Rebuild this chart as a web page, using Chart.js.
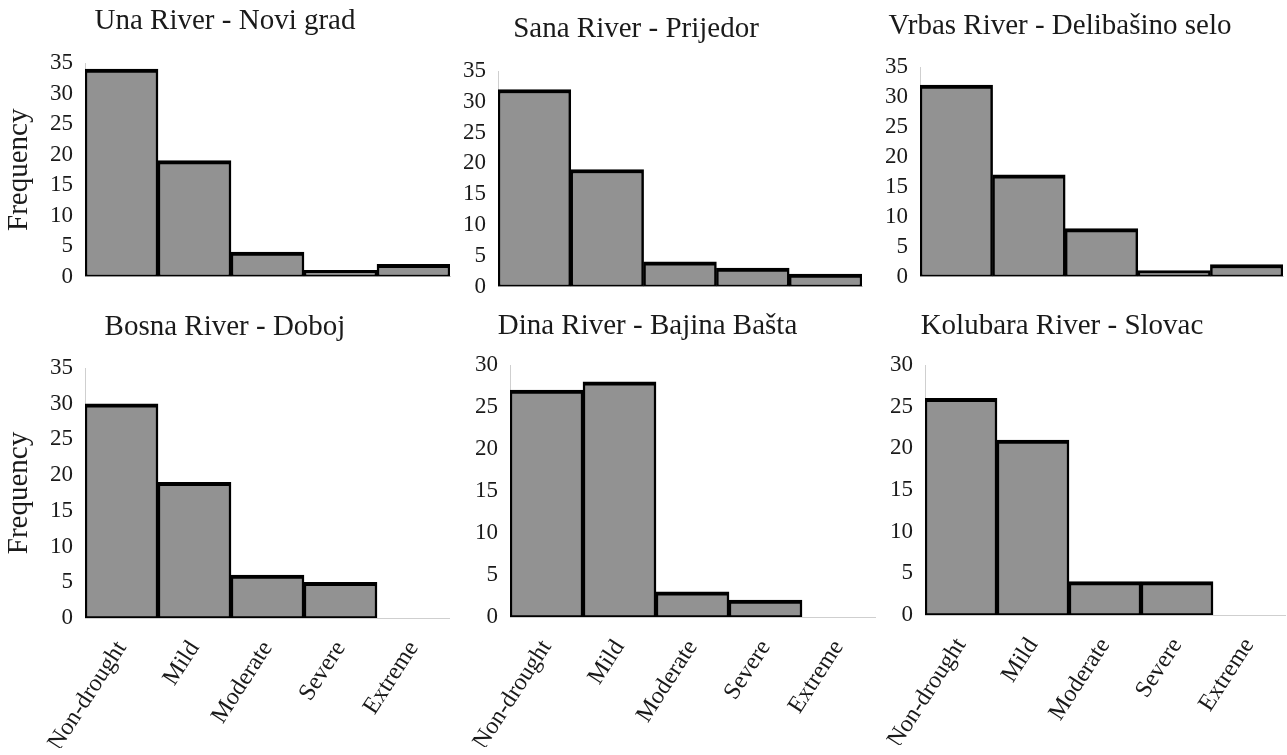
<!DOCTYPE html>
<html>
<head>
<meta charset="utf-8">
<script src="https://cdn.jsdelivr.net/npm/chart.js@4.4.1/dist/chart.umd.min.js"></script>
<style>
  html, body { margin: 0; padding: 0; background: #fff; }
  body { width: 1287px; height: 755px; position: relative; overflow: hidden; }
  .panel { position: absolute; }
</style>
</head>
<body>
<div class="panel" id="p1"><canvas id="c1"></canvas></div>
<div class="panel" id="p2"><canvas id="c2"></canvas></div>
<div class="panel" id="p3"><canvas id="c3"></canvas></div>
<div class="panel" id="p4"><canvas id="c4"></canvas></div>
<div class="panel" id="p5"><canvas id="c5"></canvas></div>
<div class="panel" id="p6"><canvas id="c6"></canvas></div>
<script>
// -- Data -----------------------------------------------------------------

const categories = ['Non-drought', 'Mild', 'Moderate', 'Severe', 'Extreme'];

const unaNoviGrad = [34, 19, 4, 1, 2];
const sanaPrijedor = [32, 19, 4, 3, 2];
const vrbasDelibasino = [32, 17, 8, 1, 2];
const bosnaDoboj = [30, 19, 6, 5, 0];
const dinaBajinaBasta = [27, 28, 3, 2, 0];
const kolubaraSlovac = [26, 21, 4, 4, 0];

const yMaxTop = 35;
const yMaxBottom = [35, 30, 30];
const yStep = 5;

// -- Panel layout ---------------------------------------------------------

const FONT = 'Liberation Serif';
const INK = '#1a1a1a';

const panels = [
  { id: 1, title: 'Una River - Novi grad', data: unaNoviGrad, yMax: yMaxTop,
    left: 0, top: 0, w: 455, h: 300, axisW: 85, pr: 5, titleY: 21, plotTop: 63, plotBottom: 278,
    showX: false, yTitle: true },
  { id: 2, title: 'Sana River - Prijedor', data: sanaPrijedor, yMax: yMaxTop,
    left: 410, top: 0, w: 460, h: 310, axisW: 88, pr: 8, titleY: 29, plotTop: 71, plotBottom: 287,
    showX: false, yTitle: false },
  { id: 3, title: 'Vrbas River - Delibašino selo', data: vrbasDelibasino, yMax: yMaxTop,
    left: 837, top: 0, w: 450, h: 300, axisW: 83, pr: 4, titleY: 26, plotTop: 67, plotBottom: 280,
    showX: false, yTitle: false },
  { id: 4, title: 'Bosna River - Doboj', data: bosnaDoboj, yMax: yMaxBottom[0],
    left: 0, top: 300, w: 450, h: 455, axisW: 85, pr: 0, titleY: 27, plotTop: 68, plotBottom: 318,
    showX: true, yTitle: true },
  { id: 5, title: 'Dina River - Bajina Bašta', data: dinaBajinaBasta, yMax: yMaxBottom[1],
    left: 420, top: 300, w: 460, h: 455, axisW: 90, pr: 5, titleY: 26, plotTop: 65, plotBottom: 317,
    showX: true, yTitle: false },
  { id: 6, title: 'Kolubara River - Slovac', data: kolubaraSlovac, yMax: yMaxBottom[2],
    left: 839, top: 300, w: 448, h: 455, axisW: 86, pr: 2, titleY: 26, plotTop: 65, plotBottom: 315,
    showX: true, yTitle: false },
];

const TITLE_SIZE = 29;
const TITLE_LH = TITLE_SIZE * 1.2;
const X_AXIS_H = 130;

function buildPanel(p) {
  const wrap = document.getElementById('p' + p.id);
  wrap.style.left = p.left + 'px';
  wrap.style.top = p.top + 'px';
  const canvas = document.getElementById('c' + p.id);
  canvas.width = p.w;
  canvas.height = p.h;
  canvas.style.width = p.w + 'px';
  canvas.style.height = p.h + 'px';

  const titleTop = p.titleY - TITLE_LH / 2;
  const titleBottom = p.plotTop - titleTop - TITLE_LH;
  const xH = p.showX ? X_AXIS_H : 0;
  const padBottom = p.h - p.plotBottom - xH;

  return new Chart(canvas, {
    type: 'bar',
    data: {
      labels: categories,
      datasets: [{
        data: p.data,
        backgroundColor: '#929292',
        borderColor: '#000',
        // neighbouring bars share one ~5px divider, as in the source figure
        borderWidth: { top: 4, left: 2.5, right: 2.5, bottom: 2 },
        borderSkipped: false,
        categoryPercentage: 1,
        barPercentage: 1,
      }],
    },
    options: {
      responsive: false,
      animation: false,
      devicePixelRatio: 1,
      layout: { padding: { left: 0, right: p.pr, top: 0, bottom: padBottom } },
      plugins: {
        legend: { display: false },
        tooltip: { enabled: false },
        title: {
          display: true,
          text: p.title,
          color: INK,
          font: { family: FONT, size: TITLE_SIZE, weight: 'normal' },
          padding: { top: titleTop, bottom: titleBottom },
        },
      },
      scales: {
        x: {
          grid: { display: false, drawTicks: false },
          border: { display: true, color: '#cfcfcf', width: 1 },
          ticks: {
            display: p.showX,
            color: INK,
            font: { family: FONT, size: 24 },
            minRotation: 57,
            maxRotation: 57,
            padding: 18,
            autoSkip: false,
          },
          afterFit(scale) {
            // fixed axis band; rotated labels must not shrink the plot width
            scale.height = xH;
            scale.paddingLeft = 0;
            scale.paddingRight = 0;
          },
        },
        y: {
          min: 0,
          max: p.yMax,
          grid: { display: false, drawTicks: false },
          border: { display: true, color: '#cfcfcf', width: 1 },
          ticks: {
            stepSize: yStep,
            maxTicksLimit: 20,
            autoSkip: false,
            color: INK,
            font: { family: FONT, size: 23, lineHeight: 1 },
            padding: 12,
          },
          title: {
            display: p.yTitle,
            text: 'Frequency',
            color: INK,
            font: { family: FONT, size: 29 },
            padding: { top: 2, bottom: 0 },
          },
          afterFit(scale) { scale.width = p.axisW; },
        },
      },
    },
  });
}

panels.forEach(buildPanel);
</script>
</body>
</html>
